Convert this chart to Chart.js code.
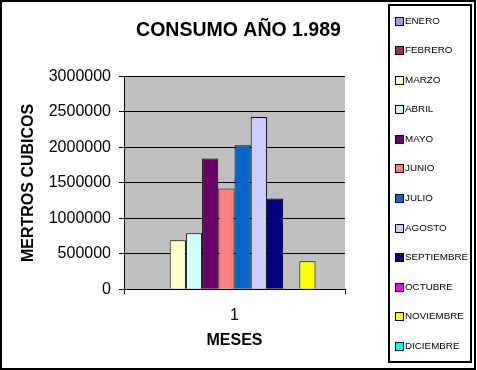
<!DOCTYPE html>
<html>
<head>
<meta charset="utf-8">
<script src="https://cdn.jsdelivr.net/npm/chart.js@4.4.1/dist/chart.umd.min.js"></script>
<style>
  html, body { margin: 0; padding: 0; background: #ffffff; }
  #wrap { position: relative; width: 477px; height: 370px; }
  #c { position: absolute; left: 0; top: 0; }
  #frame { position: absolute; left: 0; top: 0; width: 472px; height: 366px; border: 2px solid #000; pointer-events: none; }
</style>
</head>
<body>
<div id="wrap">
  <canvas id="c" width="477" height="370"></canvas>
  <div id="frame"></div>
</div>
<script>
const chartTitle = 'CONSUMO AÑO 1.989';
const categories = ['1'];
const months = ['ENERO', 'FEBRERO', 'MARZO', 'ABRIL', 'MAYO', 'JUNIO', 'JULIO', 'AGOSTO', 'SEPTIEMBRE', 'OCTUBRE', 'NOVIEMBRE', 'DICIEMBRE'];
const consumo = [0, 0, 690000, 790000, 1845000, 1420000, 2030000, 2430000, 1280000, 0, 395000, 0];
const yTicks = [0, 500000, 1000000, 1500000, 2000000, 2500000, 3000000];
const xAxisTitle = 'MESES';
const yAxisTitle = 'MERTROS CUBICOS';

const palette = ['#9999FF', '#993366', '#FFFFCC', '#CCFFFF', '#660066', '#FF8080', '#0066CC', '#CCCCFF', '#000080', '#FF00FF', '#FFFF00', '#00FFFF'];
const FONT = "'Liberation Sans', Arial, sans-serif";

const datasets = months.map((m, i) => ({
  label: m,
  data: [consumo[i]],
  backgroundColor: palette[i],
  borderColor: '#000000',
  borderWidth: 1,
  borderSkipped: 'start',
  categoryPercentage: 0.88,
  barPercentage: 1.0
}));

const plotBg = {
  id: 'plotBg',
  beforeDraw(chart) {
    const {ctx, chartArea: a} = chart;
    ctx.save();
    ctx.fillStyle = '#C0C0C0';
    ctx.fillRect(a.left, a.top, a.right - a.left, a.bottom - a.top);
    ctx.restore();
  }
};

const titlePlugin = {
  id: 'excelTitle',
  afterDraw(chart) {
    const ctx = chart.ctx;
    ctx.save();
    ctx.fillStyle = '#000';
    ctx.font = 'bold 19.5px ' + FONT;
    ctx.textAlign = 'center';
    ctx.textBaseline = 'alphabetic';
    ctx.fillText(chartTitle, 238.5, 36);
    ctx.restore();
  }
};

const legendBox = {
  id: 'legendBox',
  afterDraw(chart) {
    const ctx = chart.ctx;
    const ds = chart.data.datasets;
    ctx.save();
    ctx.strokeStyle = '#000';
    ctx.lineWidth = 2;
    ctx.strokeRect(389, 5, 82, 357);
    ctx.font = '9.8px ' + FONT;
    ctx.textAlign = 'left';
    ctx.textBaseline = 'middle';
    const y0 = 20.8, step = 29.53;
    ds.forEach((d, i) => {
      const y = Math.round(y0 + i * step);
      ctx.fillStyle = d.backgroundColor;
      ctx.fillRect(396, y - 3, 7, 7);
      ctx.lineWidth = 1;
      ctx.strokeStyle = '#000';
      ctx.strokeRect(395.5, y - 3.5, 8, 8);
      ctx.fillStyle = '#000';
      ctx.fillText(d.label, 405, y + 0.5);
    });
    ctx.restore();
  }
};

new Chart(document.getElementById('c'), {
  type: 'bar',
  data: { labels: categories, datasets },
  options: {
    responsive: false,
    animation: false,
    devicePixelRatio: 1,
    layout: { padding: { left: 0, right: 132, top: 76.5, bottom: 20 } },
    plugins: {
      legend: { display: false },
      title: { display: false },
      tooltip: { enabled: false }
    },
    scales: {
      x: {
        type: 'category',
        offset: true,
        grid: { offset: true, drawOnChartArea: false, drawTicks: true, tickLength: 5, color: '#000', lineWidth: 1 },
        border: { display: true, color: '#000', width: 1 },
        ticks: { color: '#000', font: { family: FONT, size: 16 }, padding: 12, maxRotation: 0 },
        title: { display: true, text: xAxisTitle, color: '#000', font: { family: FONT, size: 16, weight: 'bold' }, padding: { top: 0, bottom: 0 } },
        afterFit(scale) { scale.height = 60.7; }
      },
      y: {
        min: 0,
        max: 3000000,
        afterBuildTicks(scale) { scale.ticks = yTicks.map(v => ({ value: v })); },
        grid: { drawOnChartArea: true, drawTicks: true, tickLength: 5, color: '#000', lineWidth: 1 },
        border: { display: true, color: '#000', width: 1 },
        ticks: { color: '#000', font: { family: FONT, size: 16 }, padding: 8, callback: v => String(v) },
        title: { display: true, text: yAxisTitle, color: '#000', font: { family: FONT, size: 16, weight: 'bold' }, padding: { top: 19, bottom: 0 } },
        afterFit(scale) { scale.width = 124; }
      }
    }
  },
  plugins: [plotBg, titlePlugin, legendBox]
});
</script>
</body>
</html>
